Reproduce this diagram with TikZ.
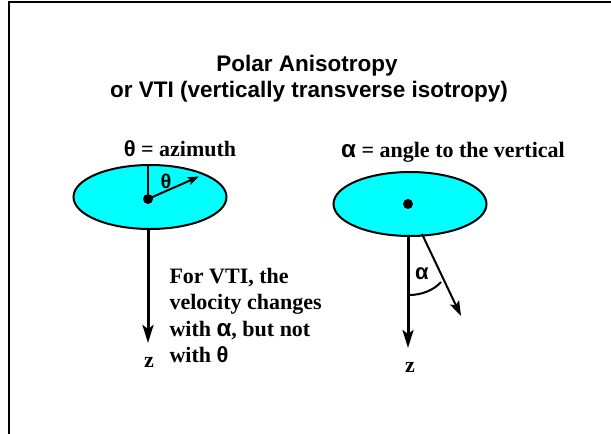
\documentclass[tikz,border=0pt]{standalone}
\usepackage{fontspec}
\setmainfont{Liberation Serif}
\newfontfamily\arialfont{Liberation Sans}
\newcommand{\gkal}{{\arialfont\bfseries\scalebox{1.1}{α}}}
\newcommand{\gkth}{{\arialfont\bfseries θ}}
\usetikzlibrary{shapes.geometric,arrows.meta}
\definecolor{disccyan}{RGB}{0,255,255}
\begin{document}
\begin{tikzpicture}[x=1pt,y=-1pt,
  disc/.style={ellipse,draw=black,line width=2pt,fill=disccyan,minimum width=153pt,minimum height=64pt,inner sep=0pt},
  titletext/.style={font=\arialfont\bfseries\fontsize{22.5}{26}\selectfont,anchor=base},
  serif/.style={font=\bfseries\fontsize{22}{26}\selectfont,anchor=base},
  bigarrow/.style={line width=3pt,-{Stealth[length=18pt,width=11pt,inset=4pt]}},
  tiltarrow/.style={line width=2pt,-{Stealth[length=15pt,width=10pt,inset=3pt]}},
  smallarrow/.style={line width=2pt,-{Stealth[length=11pt,width=8pt,inset=2pt]}},
  dotstyle/.style={circle,fill=black,inner sep=0pt,minimum size=10pt}]
\useasboundingbox (0,0) rectangle (611,434);
% frame (top and left edges)
\draw[line width=2.3pt] (8.8,434) -- (8.8,2.3) -- (611,2.3);
% title
\node[titletext] (t1) at (307,71) {Polar Anisotropy};
\node[titletext] (t2) at (309,97) {or VTI (vertically transverse isotropy)};
% left part
\node[serif] (lhead) at (180,156) {\gkth{} = azimuth};
\node[disc] (ld) at (150,197) {};
\node[dotstyle] (ldot) at (148,199) {};
\coordinate (ltop) at (148,165);
\draw[line width=1.5pt] (ldot.center) -- (ltop);
\coordinate (ltip) at (199,176.5);
\draw[smallarrow] (ldot.center) -- (ltip);
\node[serif,font=\bfseries\fontsize{20}{24}\selectfont] (lth) at (166,188) {\gkth};
\coordinate (lbot) at (148,228.5);
\coordinate (lzend) at (148,343);
\draw[bigarrow] (lbot) -- (lzend);
\node[serif] (lz) at (149,367) {z};
\node[serif,anchor=base west] (ltext) at (166,283) {For VTI, the};
\node[serif,anchor=base west] (ltext2) at (166,309.5) {velocity changes};
\node[serif,anchor=base west] (ltext3) at (166,336) {with \gkal, but not};
\node[serif,anchor=base west] (ltext4) at (166,362.5) {with \gkth};
% right part
\node[serif] (rhead) at (453,157) {\gkal{} = angle to the vertical};
\node[disc] (rd) at (410,204) {};
\node[dotstyle] (rdot) at (408,204) {};
\coordinate (rbot) at (408,236);
\coordinate (rzend) at (408,348);
\draw[bigarrow] (rbot) -- (rzend);
\node[serif] (rz) at (410,372) {z};
\coordinate (tstart) at (422,234);
\coordinate (tend) at (461,316);
\draw[tiltarrow] (tstart) -- (tend);
\coordinate (a1) at (409,295);
\coordinate (a2) at (441,282);
\draw[line width=2pt] (a1) .. controls (422,295) and (434,290) .. (a2);
\node[serif,font=\bfseries\fontsize{20}{24}\selectfont] (ral) at (422,279) {\gkal};
\end{tikzpicture}
\end{document}
